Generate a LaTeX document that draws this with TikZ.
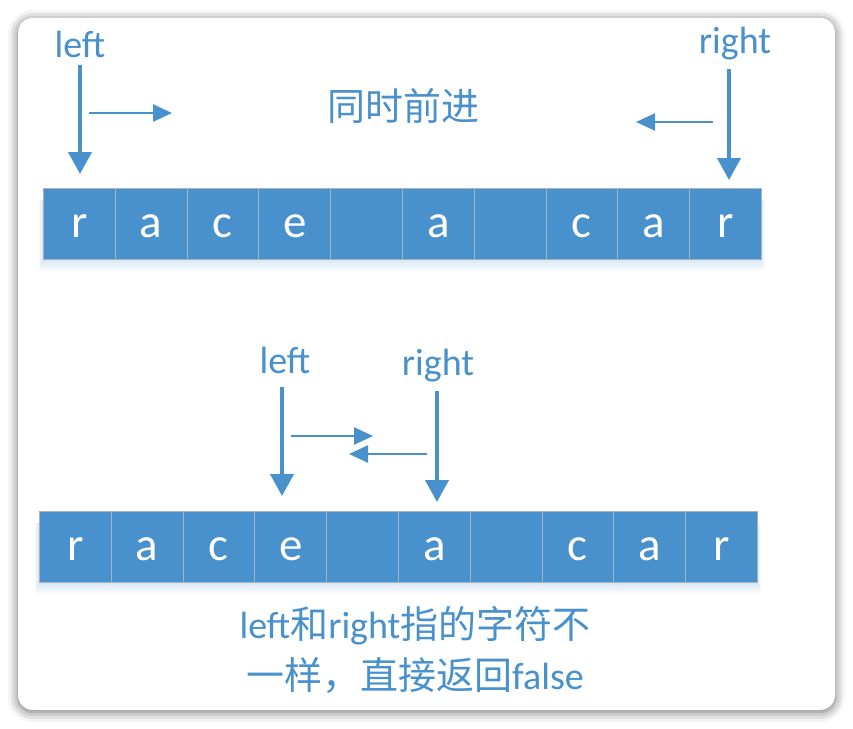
\documentclass[tikz,border=0pt]{standalone}
\usepackage{fontspec}
\setmainfont{Carlito}
\newfontfamily\cjk{Noto Sans CJK SC}
\usetikzlibrary{arrows.meta,shadows.blur}
\definecolor{azul}{HTML}{4891CD}
\definecolor{borde}{HTML}{A9B3BD}

\begin{document}
\begin{tikzpicture}[x=1pt,y=-1pt,
    celda/.style={draw=borde, line width=0.8pt, fill=azul, text=white,
      minimum width=71.8pt, minimum height=71pt, inner sep=0pt,
      text height=27pt, text depth=0pt,
      anchor=north west, font=\fontsize{47}{47}\selectfont},
    etiqueta/.style={text=azul, inner sep=0pt, anchor=base,
      font=\fontsize{38}{38}\selectfont},
    flecha/.style={azul, line width=4pt, -{Triangle[length=22pt,width=23pt]}},
    flechita/.style={azul, line width=2.5pt, -{Triangle[length=19pt,width=17pt]}}]
  \def\ancho{71.8} % ancho de cada celda
  \useasboundingbox (0,0) rectangle (853,728);
  % tarjeta con sombra
  \fill[white, rounded corners=15pt, blur shadow={shadow xshift=0pt,
      shadow yshift=-2pt, shadow blur radius=10pt, shadow opacity=60}]
    (18,18) rectangle (835,710);
  % brillo bajo las filas
  \foreach \k in {2,4,...,12} {
    \fill[azul, opacity=0.035] (43-\k/3,200) rectangle (761+\k/3,259+\k);
    \fill[azul, opacity=0.035] (39-\k/3,523) rectangle (757+\k/3,582+\k);
  }
  % fila de arriba
  \foreach \c [count=\i from 0] in {r,a,c,e,{},a,{},c,a,r}
    \node[celda] (t\i) at (43+\i*\ancho,188) {\c};
  \node[etiqueta] (izq1) at (80,57) {left};
  \node[etiqueta] (der1) at (735,53) {right};
  \node[text=azul, inner sep=0pt, font=\cjk\fontsize{38}{38}\selectfont]
    (lema) at (403.5,106) {同时前进};
  \draw[flecha, shorten <=8pt, shorten >=14pt] (izq1.south) -- (izq1.south |- t0.north);
  \draw[flecha, shorten <=9.5pt, shorten >=8pt]
    ([xshift=-6pt]der1.south) -- ([xshift=-6pt]der1.south |- t9.north);
  \coordinate (p1) at (89,113);
  \coordinate (p2) at (172,113);
  \coordinate (p3) at (713,122);
  \coordinate (p4) at (636,122);
  \draw[flechita] (p1) -- (p2);
  \draw[flechita] (p3) -- (p4);
  % fila de abajo
  \foreach \c [count=\i from 0] in {r,a,c,e,{},a,{},c,a,r}
    \node[celda] (b\i) at (39+\i*\ancho,511) {\c};
  \node[etiqueta] (izq2) at (285,373) {left};
  \node[etiqueta] (der2) at (438,375) {right};
  \draw[flecha, shorten <=14pt, shorten >=15pt]
    ([xshift=-3pt]izq2.south) -- ([xshift=-3pt]izq2.south |- b3.north);
  \draw[flecha, shorten <=9.5pt, shorten >=9pt]
    ([xshift=-1pt]der2.south) -- ([xshift=-1pt]der2.south |- b5.north);
  \coordinate (q1) at (291,436);
  \coordinate (q2) at (373,436);
  \coordinate (q3) at (427,454);
  \coordinate (q4) at (349,454);
  \draw[flechita] (q1) -- (q2);
  \draw[flechita] (q3) -- (q4);
  \node[etiqueta] (nota1) at (415,638) {left{\cjk 和}right{\cjk 指的字符不}};
  \node[etiqueta] (nota2) at (415,689) {{\cjk 一样，直接返回}false};
\end{tikzpicture}
\end{document}
